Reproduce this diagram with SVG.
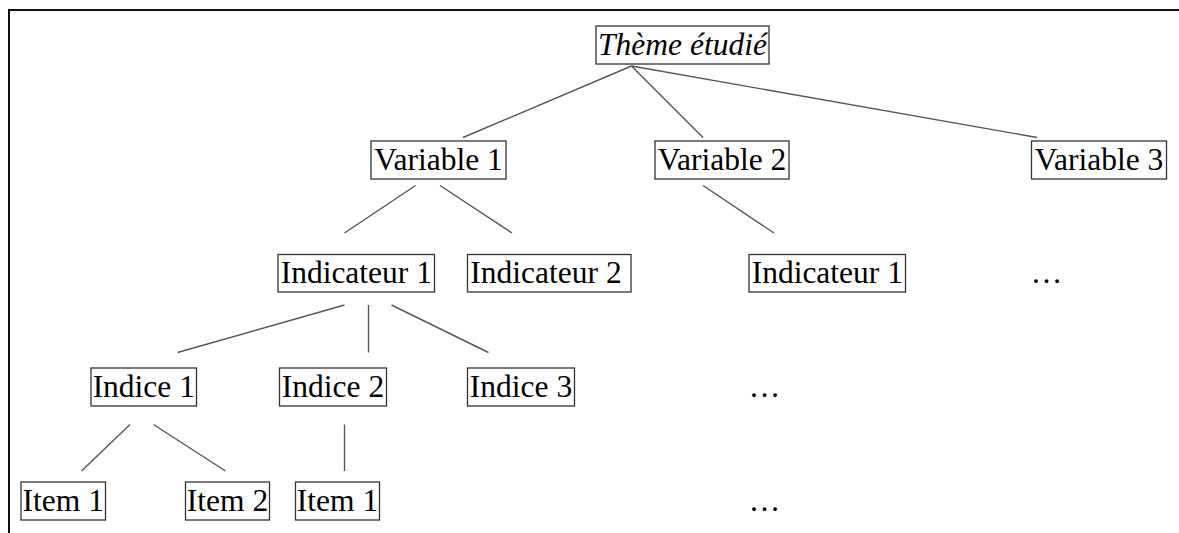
<svg xmlns="http://www.w3.org/2000/svg" width="1179" height="533" viewBox="0 0 1179 533">
<style>
.box{fill:#fff;stroke:#333;stroke-width:1.3}
.t{font-family:"Liberation Serif","Times New Roman",serif;font-size:31.5px;fill:#000;text-anchor:middle}
.it{font-style:italic}
.c line{stroke:#555;stroke-width:1.4}
.frame{stroke:#111;stroke-width:2;fill:none}
</style>
<rect width="1179" height="533" fill="#fff"/>
<path class="frame" d="M9,533 V10 H1179"/>
<g class="c" id="connectors">
<line x1="631.5" y1="66" x2="463" y2="137.5"/>
<line x1="631.5" y1="66" x2="703" y2="137.5"/>
<line x1="631.5" y1="66" x2="1037" y2="137.5"/>
<line x1="415.5" y1="185.5" x2="344.5" y2="233"/>
<line x1="440" y1="185.5" x2="512" y2="233"/>
<line x1="703" y1="185.5" x2="774" y2="233"/>
<line x1="344.5" y1="305" x2="177.5" y2="352.5"/>
<line x1="368.5" y1="305" x2="368.5" y2="352.5"/>
<line x1="391.5" y1="305" x2="488.5" y2="352.5"/>
<line x1="130" y1="424.5" x2="81.5" y2="471"/>
<line x1="153.5" y1="424.5" x2="225.5" y2="471"/>
<line x1="344.5" y1="424.5" x2="344.5" y2="471"/>
</g>
<g id="theme"><rect class="box" x="596" y="26" width="173" height="38"/><text class="t it" x="682.5" y="54.5">Thème étudié</text></g>
<g id="var1"><rect class="box" x="371" y="141" width="135" height="38"/><text class="t" x="438.5" y="169.5">Variable 1</text></g>
<g id="var2"><rect class="box" x="655" y="141" width="134" height="38"/><text class="t" x="722" y="169.5">Variable 2</text></g>
<g id="var3"><rect class="box" x="1031.5" y="141" width="135" height="38"/><text class="t" x="1099" y="169.5">Variable 3</text></g>
<g id="ind1"><rect class="box" x="278" y="254.5" width="156.5" height="37.5"/><text class="t" x="356.3" y="282.5">Indicateur 1</text></g>
<g id="ind2"><rect class="box" x="467.5" y="254.5" width="163.5" height="37.5"/><text class="t" x="546" y="282.5">Indicateur 2</text></g>
<g id="ind1b"><rect class="box" x="749" y="254.5" width="156.5" height="37.5"/><text class="t" x="827.3" y="282.5">Indicateur 1</text></g>
<g id="dots1"><text class="t" x="1046.5" y="282.5">…</text></g>
<g id="indice1"><rect class="box" x="91" y="368" width="105.5" height="38"/><text class="t" x="143.8" y="396.5">Indice 1</text></g>
<g id="indice2"><rect class="box" x="279.5" y="368" width="107" height="38"/><text class="t" x="333" y="396.5">Indice 2</text></g>
<g id="indice3"><rect class="box" x="467.5" y="368" width="107" height="38"/><text class="t" x="521" y="396.5">Indice 3</text></g>
<g id="dots2"><text class="t" x="764.5" y="396.5">…</text></g>
<g id="item1"><rect class="box" x="21" y="482" width="84.5" height="38"/><text class="t" x="63.3" y="511">Item 1</text></g>
<g id="item2"><rect class="box" x="185.5" y="482" width="84" height="38"/><text class="t" x="227.5" y="511">Item 2</text></g>
<g id="item1b"><rect class="box" x="295.5" y="482" width="84" height="38"/><text class="t" x="337.5" y="511">Item 1</text></g>
<g id="dots3"><text class="t" x="764.5" y="511">…</text></g>
</svg>
